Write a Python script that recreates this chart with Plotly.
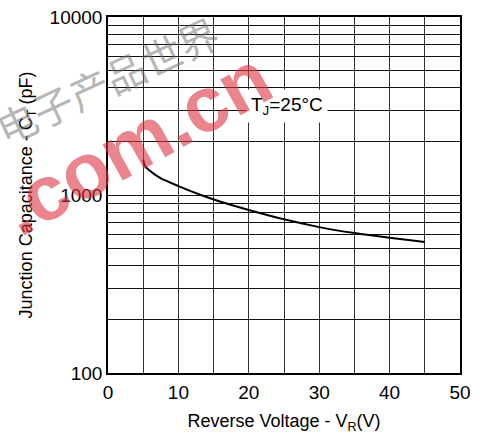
import plotly.graph_objects as go

# Data
voltage = [5.0, 5.3, 6.0, 7.4, 10.0, 13.0, 16.0, 20.0, 25.0, 30.0, 35.0, 40.0, 45.0]
capacitance = [1574, 1445, 1365, 1247, 1122, 1007, 916, 824, 730, 660, 611, 575, 545]

x_tickvals = [0, 5, 10, 15, 20, 25, 30, 35, 40, 45, 50]
x_ticktext = ["0", "", "10", "", "20", "", "30", "", "40", "", "50"]
y_tickvals = [100, 200, 300, 400, 500, 600, 700, 800, 900,
              1000, 2000, 3000, 4000, 5000, 6000, 7000, 8000, 9000, 10000]
y_ticktext = ["100", "", "", "", "", "", "", "", "",
              "1000", "", "", "", "", "", "", "", "", "10000"]

FONT = "Liberation Sans, Arial, sans-serif"

fig = go.Figure()
fig.add_trace(go.Scatter(x=voltage, y=capacitance, mode="lines",
                         line=dict(color="black", width=2, shape="spline", smoothing=0.7),
                         showlegend=False, hoverinfo="skip"))

W, H = 480, 439
L, R, T, B = 108, 20, 17, 66
pw, ph = W - L - R, H - T - B

def px(xp):
    return (xp - L) / pw

def py(yp):
    return (H - B - yp) / ph

fig.update_layout(
    width=W, height=H,
    margin=dict(l=L, r=R, t=T, b=B, autoexpand=False),
    paper_bgcolor="white", plot_bgcolor="white",
    font=dict(family=FONT, color="black", size=17),
    xaxis=dict(range=[0, 50], tickvals=x_tickvals, ticktext=x_ticktext,
               showgrid=True, gridcolor="#333333", gridwidth=1,
               showline=True, linecolor="black", linewidth=1.5, mirror=True,
               zeroline=False, ticks="", ticklabelstandoff=1, automargin=False,
               tickfont=dict(size=19),
               title=dict(text="Reverse Voltage - V<sub>R</sub>(V)",
                          font=dict(size=18), standoff=13)),
    yaxis=dict(type="log", range=[2, 4], tickvals=y_tickvals, ticktext=y_ticktext,
               showgrid=True, gridcolor="#111111", gridwidth=1,
               showline=True, linecolor="black", linewidth=1.5, mirror=True,
               zeroline=False, ticks="", ticklabelstandoff=0, automargin=False,
               tickfont=dict(size=19),
               title=dict(text="Junction Capacitance - C<sub>T</sub> (pF)",
                          font=dict(size=18), standoff=12)),
    annotations=[
        dict(x=25.4, y=3.5, xref="x", yref="y", text="T<sub>J</sub>=25°C",
             showarrow=False, bgcolor="white", borderpad=4,
             xanchor="center", yanchor="middle",
             font=dict(size=19, family=FONT, color="black")),
        dict(x=px(135), y=py(143), xref="paper", yref="paper", text="<b>.com.cn</b>",
             showarrow=False, textangle=-29, xanchor="center", yanchor="middle",
             font=dict(size=78, family="Liberation Sans, Arial", color="rgba(220,50,65,0.6)")),
        dict(x=px(107), y=py(80), xref="paper", yref="paper", text="电子产品世界",
             showarrow=False, textangle=-25, xanchor="center", yanchor="middle",
             font=dict(size=40, family="Noto Sans CJK SC", color="rgba(110,110,110,0.5)")),
    ],
)

fig.write_html("out.html", config={"displayModeBar": False},
               post_script="document.body.style.margin='0';")
